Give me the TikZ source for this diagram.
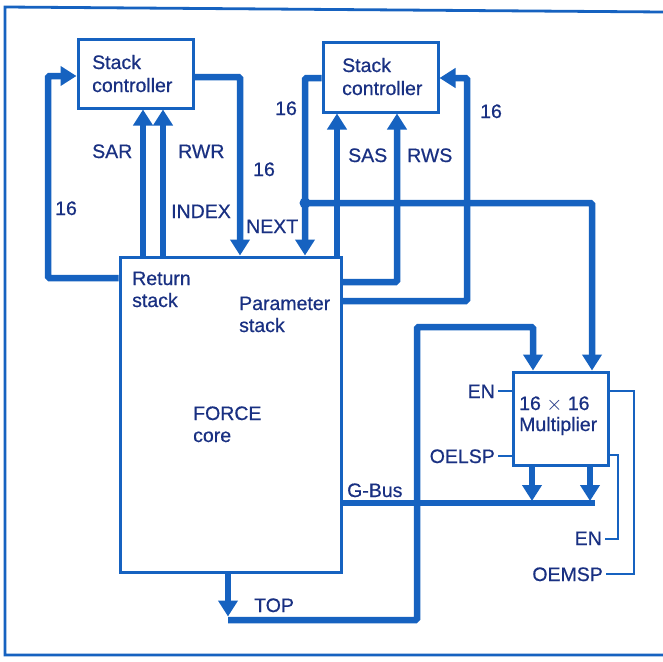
\documentclass[tikz,border=0pt]{standalone}
\usepackage{fontspec}
\setmainfont{Liberation Sans}[FakeBold=0.6]
\usetikzlibrary{arrows.meta}
\definecolor{lineblue}{RGB}{22,98,192}
\definecolor{textblue}{RGB}{25,48,130}
\tikzset{
  boxnode/.style={draw=lineblue,line width=3pt,inner sep=0pt,fill=white},
  bus/.style={draw=lineblue,line width=6.5pt,rounded corners=1.5pt},
  ctl/.style={draw=lineblue,line width=2.5pt},
  tip/.style={-{Triangle[width=19pt,length=16pt]}},
  lbl/.style={text=textblue,inner sep=0pt,font=\fontsize{19.5}{22}\selectfont},
  frameline/.style={draw=lineblue,line width=2.8pt}
}
\begin{document}
\begin{tikzpicture}[x=1pt,y=-1pt]
\useasboundingbox (0,0) rectangle (663,661);
\fill[white] (0,0) rectangle (663,661);
% frame
\draw[frameline] (663,12) -- (5,7) -- (5,655) -- (663,655);

% boxes
\node[boxnode,minimum width=115pt,minimum height=68pt] (lsc) at (135.5,74) {};
\node[boxnode,minimum width=115pt,minimum height=69pt] (rsc) at (380.5,77.5) {};
\node[boxnode,minimum width=221pt,minimum height=315pt] (core) at (230.5,414.5) {};
\node[boxnode,minimum width=95pt,minimum height=93pt] (mul) at (560.5,418.5) {};

% box texts
\node[lbl,anchor=base west] (lsct1) at (92,69) {Stack};
\node[lbl,anchor=base west] (lsct2) at (92,92) {controller};
\node[lbl,anchor=base west] (rsct1) at (342,72) {Stack};
\node[lbl,anchor=base west] (rsct2) at (342,95) {controller};
\node[lbl,anchor=base west] (rst1) at (132,285) {Return};
\node[lbl,anchor=base west] (rst2) at (132,307) {stack};
\node[lbl,anchor=base west] (pst1) at (239,310) {Parameter};
\node[lbl,anchor=base west] (pst2) at (239,332) {stack};
\node[lbl,anchor=base west] (fc1) at (193,420) {FORCE};
\node[lbl,anchor=base west] (fc2) at (193,442) {core};
\node[lbl,anchor=base west] (mt1) at (519,410) {16 $\times$ 16};
\node[lbl,anchor=base west] (mt2) at (519,431) {Multiplier};

% junction
\coordinate (j) at (305,203);
\coordinate (tb) at (228,620);

% left loop
\draw[bus,tip] (core.west |- 0,278) -- (48,278) |- (lsc.west |- 0,76);
% SAR, INDEX/RWR
\draw[bus,tip] (core.north -| 143,0) -- (lsc.south -| 143,0);
\draw[bus,tip] (core.north -| 163,0) -- (lsc.south -| 163,0);
% lsc to core
\draw[bus,tip] (lsc.east |- 0,77) -| (core.north -| 240,0);
% rsc to core (NEXT)
\draw[bus,tip] (rsc.west |- 0,78) -| (core.north -| j);
% SAS
\draw[bus,tip] (core.north -| 337,0) -- (rsc.south -| 337,0);
% RWS
\draw[bus,tip] (core.east |- 0,282) -| (rsc.south -| 397,0);
% right loop 16
\draw[bus,tip] (core.east |- 0,301) -- (467,301) |- (rsc.east |- 0,78);
% NEXT bus to multiplier
\draw[bus,tip] (j) -| (mul.north -| 592,0);
\fill[lineblue] (j) circle (5.5pt);
% TOP
\draw[bus,tip] (core.south -| tb) -- ++(0,43);
\draw[bus,tip] (tb) -| (417,327) -| (mul.north -| 533,0);
% G-Bus
\draw[bus] (core.east |- 0,503) -- (595,503);
\draw[bus,tip] (mul.south -| 532,0) -- (532,501);
\draw[bus,tip] (mul.south -| 590,0) -- (590,501);

% control lines
\node[lbl,anchor=base east] (en1) at (495,398) {EN};
\node[lbl,anchor=base east] (oelsp) at (495,463) {OELSP};
\node[lbl,anchor=base east] (en2) at (602,545) {EN};
\node[lbl,anchor=base east] (oemsp) at (603,581) {OEMSP};
\draw[ctl] ([xshift=3pt]en1.east |- 0,391) -- (mul.west |- 0,391);
\draw[ctl] ([xshift=3pt]oelsp.east |- 0,456) -- (mul.west |- 0,456);
\draw[ctl] (mul.east |- 0,391) -| (634,574) -- ([xshift=3pt]oemsp.east |- 0,574);
\draw[ctl] (mul.east |- 0,455) -| (618,539) -- ([xshift=3pt]en2.east |- 0,539);

% bus labels
\node[lbl,anchor=base west] (sar) at (92,158) {SAR};
\node[lbl,anchor=base west] (rwr) at (178,158) {RWR};
\node[lbl,anchor=base west] (n16a) at (55,215) {16};
\node[lbl,anchor=base west] (index) at (171,218) {INDEX};
\node[lbl,anchor=base west] (n16b) at (253,176) {16};
\node[lbl,anchor=base west] (next) at (246,233) {NEXT};
\node[lbl,anchor=base west] (n16c) at (275,115) {16};
\node[lbl,anchor=base west] (sas) at (348,162) {SAS};
\node[lbl,anchor=base west] (rws) at (407,162) {RWS};
\node[lbl,anchor=base west] (n16d) at (480,118) {16};
\node[lbl,anchor=base west] (gbus) at (347,497) {G-Bus};
\node[lbl,anchor=base west] (top) at (254,612) {TOP};
\end{tikzpicture}
\end{document}
